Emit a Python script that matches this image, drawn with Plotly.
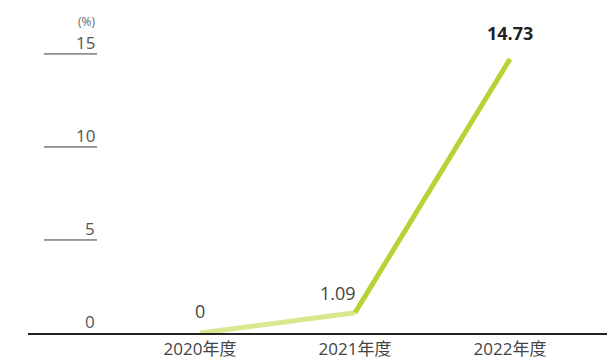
import plotly.graph_objects as go

categories = ["2020年度", "2021年度", "2022年度"]
values = [0, 1.09, 14.73]
value_labels = ["0", "1.09", "14.73"]
ytick_vals = [0, 5, 10, 15]
ytick_text = ["0", "5", "10", "15"]
unit_label = "(%)"

FONT = "Open Sans, Noto Sans CJK JP, sans-serif"
light = "#d7e88f"
bright = "#b5d334"

fig = go.Figure()
fig.add_trace(go.Scatter(x=categories[0:2], y=values[0:2], mode="lines",
                         line=dict(color=light, width=5), hoverinfo="skip"))
fig.add_trace(go.Scatter(x=categories[1:3], y=values[1:3], mode="lines",
                         line=dict(color=bright, width=5), hoverinfo="skip"))

W, H = 607, 360
ml, mr, mt, mb = 28, 0, 0, 27
pw = W - ml - mr
lab_right = (97 - ml) / pw
line_left = (44 - ml) / pw

annotations = []
shapes = []
for v, t in zip(ytick_vals, ytick_text):
    annotations.append(dict(x=lab_right, y=v, xref="paper", yref="y", text=t,
                            showarrow=False, xanchor="right", yanchor="bottom",
                            yshift=-2, font=dict(family=FONT, size=17, color="#555555")))
    if v != 0:
        shapes.append(dict(type="line", xref="paper", yref="y", x0=line_left, x1=lab_right,
                           y0=v, y1=v, line=dict(color="#3a3a3a", width=1)))
annotations.append(dict(x=lab_right, y=16.72, xref="paper", yref="y", text=unit_label,
                        showarrow=False, xanchor="right", yanchor="middle",
                        font=dict(family=FONT, size=12, color="#666666")))

offsets = [(0, 22), (-17, 20), (0, 26)]
for i, (c, v, t) in enumerate(zip(categories, values, value_labels)):
    bold = i == len(values) - 1
    annotations.append(dict(x=c, y=v, xref="x", yref="y",
                            text=f"<b>{t}</b>" if bold else t,
                            showarrow=False, xanchor="center", yanchor="middle",
                            xshift=offsets[i][0], yshift=offsets[i][1],
                            font=dict(family=FONT, size=18,
                                      color="#222222" if bold else "#444444")))

fig.update_layout(
    width=W, height=H,
    margin=dict(l=ml, r=mr, t=mt, b=mb),
    paper_bgcolor="white", plot_bgcolor="white",
    showlegend=False,
    xaxis=dict(type="category", range=[-1.11, 2.626], showgrid=False, zeroline=False,
               showline=True, linecolor="#222222", linewidth=2, ticks="",
               tickfont=dict(family=FONT, size=17, color="#444444"), fixedrange=True),
    yaxis=dict(range=[0, 17.9], showgrid=False, zeroline=False, showline=False,
               showticklabels=False, fixedrange=True),
    annotations=annotations,
    shapes=shapes,
)
fig.write_html("out.html")
